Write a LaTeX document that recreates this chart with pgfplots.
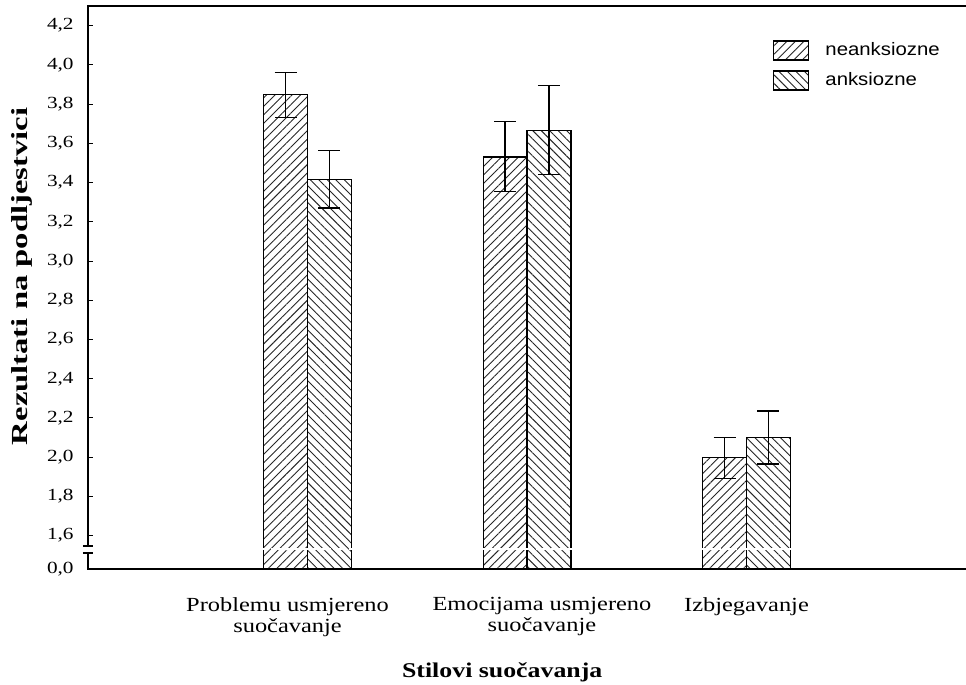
\documentclass[border=0pt]{standalone}
\usepackage{fontspec}
\setmainfont{Liberation Serif}
\newfontfamily\arial{Liberation Sans}
\usepackage{graphicx}
\usepackage{pgfplots}
\pgfplotsset{compat=1.18}
\usetikzlibrary{patterns.meta}
\newcommand{\hs}[2]{\scalebox{#1}[1]{#2}}
\begin{document}
\begin{tikzpicture}
\begin{axis}[
  scale only axis, width=439pt, height=281.5pt,
  xmin=0, xmax=4, ymin=1.43, ymax=4.3,
  axis line style={draw=none},
  xtick=\empty,
  ytick={1.43,1.6,1.8,2.0,2.2,2.4,2.6,2.8,3.0,3.2,3.4,3.6,3.8,4.0,4.2},
  yticklabels={{\hs{1.25}{0,0}},{\hs{1.25}{1,6}},{\hs{1.25}{1,8}},{\hs{1.25}{2,0}},{\hs{1.25}{2,2}},{\hs{1.25}{2,4}},{\hs{1.25}{2,6}},{\hs{1.25}{2,8}},{\hs{1.25}{3,0}},{\hs{1.25}{3,2}},{\hs{1.25}{3,4}},{\hs{1.25}{3,6}},{\hs{1.25}{3,8}},{\hs{1.25}{4,0}},{\hs{1.25}{4,2}}},
  ytick pos=left, tick align=inside, major tick length=2.5pt,
  tick style={black, line width=0.5pt},
  yticklabel style={inner sep=0pt, anchor=east, xshift=-7pt, font=\fontsize{8.5}{9}\selectfont},
  legend style={at={(0.780,0.943)}, anchor=north west, draw=none, fill=none, inner sep=0pt,
    row sep=3pt, column sep=6pt, font=\arial\fontsize{9}{10}\selectfont, cells={anchor=west}},
  legend image code/.code={\draw[#1,line width=0.6pt] (0pt,-4.75pt) rectangle (17.5pt,4.75pt);},
  after end axis/.code={
    \coordinate (bbl) at (rel axis cs:0,0);
    \coordinate (bbr) at (rel axis cs:1,1);
    \draw[white, line width=1pt, dash pattern=on 7pt off 0.8pt] (axis cs:0.05,1.532) -- (axis cs:3.95,1.532);
    \draw[line width=0.9pt] (rel axis cs:1,1) -- (rel axis cs:0,1) -- (axis cs:0,1.547);
    \draw[line width=0.9pt] (axis cs:0,1.511) -- (rel axis cs:0,0) -- (rel axis cs:1,0);
    \draw[line width=0.7pt] ([xshift=-2.5pt]axis cs:0,1.547) -- ++(5pt,0);
    \draw[line width=0.7pt] ([xshift=-2.5pt]axis cs:0,1.511) -- ++(5pt,0);
    \node[rotate=90, font=\bfseries\fontsize{11.5}{13}\selectfont] at ([xshift=-33pt]axis cs:0,2.922) {\hs{1.42}{Rezultati na podljestvici}};
    \node[font=\bfseries\fontsize{10.5}{12}\selectfont, anchor=base, inner sep=0pt] at ([yshift=-54pt]axis cs:1.887,1.43) {\hs{1.23}{Stilovi suočavanja}};
    \node[font=\fontsize{10}{10.4}\selectfont, anchor=north, inner sep=0pt, align=center] at ([yshift=-14pt]axis cs:0.909,1.43) {\hs{1.22}{Problemu usmjereno}\\\hs{1.22}{suočavanje}};
    \node[font=\fontsize{10}{10.4}\selectfont, anchor=north, inner sep=0pt, align=center] at ([yshift=-14pt]axis cs:2.068,1.43) {\hs{1.22}{Emocijama usmjereno}\\\hs{1.22}{suočavanje}};
    \node[font=\fontsize{10}{10.4}\selectfont, anchor=north, inner sep=0pt, align=center] at ([yshift=-14pt]axis cs:3.0,1.43) {\hs{1.22}{Izbjegavanje}};
  }
]
\addplot[ybar, bar width=0.2, bar shift=0pt, draw=black, line width=0.6pt,
  pattern={Lines[angle=45,distance=3pt,line width=0.45pt]}, pattern color=black!85]
  coordinates {(0.9,3.85) (1.9,3.53) (2.9,2.00)};
\addlegendentry{\hs{1.13}{neanksiozne}}
\addplot[ybar, bar width=0.2, bar shift=0pt, draw=black, line width=0.6pt,
  pattern={Lines[angle=-45,distance=3pt,line width=0.45pt]}, pattern color=black!85]
  coordinates {(1.1,3.415) (2.1,3.665) (3.1,2.10)};
\addlegendentry{\hs{1.13}{anksiozne}}
\addplot[forget plot, draw=none, no markers,
  error bars/.cd, y dir=both, y explicit,
  error bar style={draw=black, line width=0.6pt, solid},
  error mark options={draw=black, line width=0.6pt, mark size=5.5pt, rotate=90}]
  coordinates {
  (0.9,3.85) += (0,0.11) -= (0,0.12)
  (1.9,3.53) += (0,0.18) -= (0,0.175)
  (2.9,2.00) += (0,0.10) -= (0,0.11)
  (1.1,3.415) += (0,0.15) -= (0,0.145)
  (2.1,3.665) += (0,0.23) -= (0,0.225)
  (3.1,2.10) += (0,0.135) -= (0,0.135)
  };
\end{axis}
\pgfresetboundingbox
\path ([xshift=-44pt,yshift=-57.5pt]bbl) rectangle ([yshift=3pt]bbr);
\end{tikzpicture}
\end{document}
